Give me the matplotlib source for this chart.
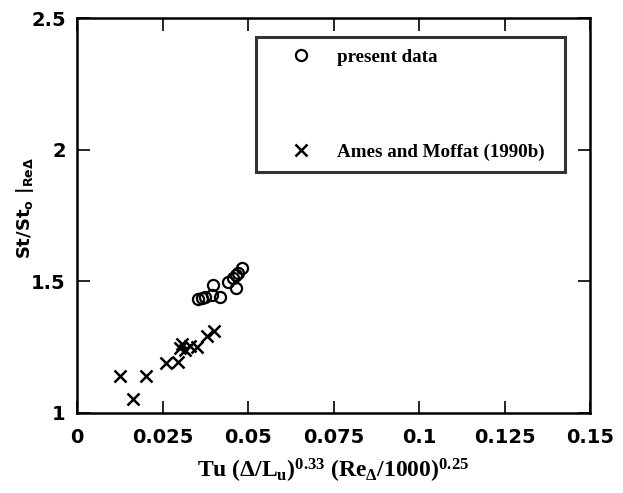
import matplotlib
matplotlib.use("Agg")
import matplotlib.pyplot as plt
from matplotlib.lines import Line2D

# ---- data ----
present_x = [0.0355, 0.0365, 0.0374, 0.0394, 0.0399, 0.0418, 0.0442, 0.0457, 0.0465, 0.0465, 0.0472, 0.0482]
present_y = [1.432, 1.436, 1.442, 1.448, 1.486, 1.442, 1.499, 1.511, 1.474, 1.524, 1.530, 1.550]

ames_x = [0.0127, 0.0165, 0.0202, 0.0260, 0.0295, 0.0301, 0.0306, 0.0315, 0.0330, 0.0350, 0.0380, 0.0402]
ames_y = [1.140, 1.055, 1.140, 1.191, 1.195, 1.246, 1.262, 1.239, 1.254, 1.249, 1.292, 1.310]

x_ticks = [0, 0.025, 0.05, 0.075, 0.1, 0.125, 0.15]
x_tick_labels = ["0", "0.025", "0.05", "0.075", "0.1", "0.125", "0.15"]
y_ticks = [1, 1.5, 2, 2.5]
y_tick_labels = ["1", "1.5", "2", "2.5"]

labels = ["present data", "Ames and Moffat (1990b)"]

plt.rcParams["mathtext.default"] = "regular"

fig = plt.figure(figsize=(6.23, 4.93), dpi=100)
ax = fig.add_axes([77 / 623, 80 / 493, (590 - 77) / 623, (413 - 18) / 493])

ax.plot(present_x, present_y, linestyle="none", marker="o", markersize=8,
        markerfacecolor="none", markeredgecolor="black", markeredgewidth=1.6)
ax.plot(ames_x, ames_y, linestyle="none", marker="x", markersize=9,
        color="black", markeredgewidth=1.8)

ax.set_xlim(0, 0.15)
ax.set_ylim(1, 2.5)
ax.set_xticks(x_ticks)
ax.set_xticklabels(x_tick_labels)
ax.set_yticks(y_ticks)
ax.set_yticklabels(y_tick_labels)

for lab in ax.get_xticklabels() + ax.get_yticklabels():
    lab.set_fontfamily("DejaVu Sans")
    lab.set_fontweight("bold")
    lab.set_fontsize(14)

ax.tick_params(direction="in", length=9, width=1.2, top=True, right=True)
ax.tick_params(axis="x", pad=11)
ax.tick_params(axis="y", pad=8)
for sp in ax.spines.values():
    sp.set_linewidth(1.8)

ax.set_xlabel(r"Tu ($\Delta$/L$_u$)$^{0.33}$ (Re$_\Delta$/1000)$^{0.25}$",
              fontfamily="Liberation Serif", fontweight="bold", fontsize=17)
ax.xaxis.set_label_coords(0.5, -0.11)

ax.set_ylabel(r"St/St$_o$ |$_{Re\Delta}$", fontfamily="DejaVu Sans",
              fontweight="bold", fontsize=13)
ax.yaxis.set_label_coords(-0.08, 0.52)

handles = [
    Line2D([], [], linestyle="none", marker="o", markersize=8,
           markerfacecolor="none", markeredgecolor="black", markeredgewidth=1.6),
    Line2D([], [], linestyle="none", marker="x", markersize=8,
           color="black", markeredgewidth=1.8),
]
leg = ax.legend(handles, labels, loc="upper left",
                bbox_to_anchor=(0.349, 0.952, 0.602, 0.0), mode="expand",
                borderaxespad=0, frameon=True, fancybox=False,
                edgecolor="black", labelspacing=4.05, borderpad=0.62,
                handlelength=3.45, handletextpad=0.18,
                prop={"family": "Liberation Serif", "weight": "bold", "size": 13.7})
leg.get_frame().set_linewidth(2.2)

fig.savefig("out.png", dpi=100)
